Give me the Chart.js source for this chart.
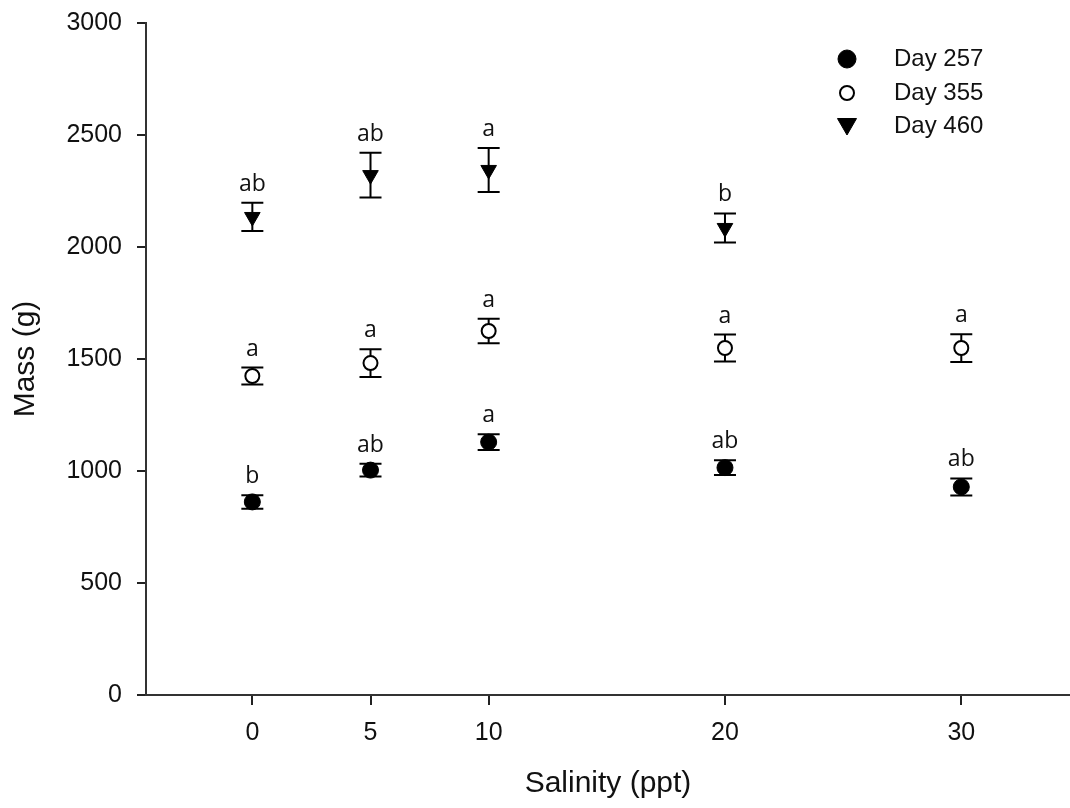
<!DOCTYPE html>
<html>
<head>
<meta charset="utf-8">
<script src="https://cdn.jsdelivr.net/npm/chart.js@4"></script>
<style>
  html, body { margin: 0; padding: 0; background: #fff; }
  #wrap { width: 1070px; height: 808px; }
</style>
</head>
<body>
<div id="wrap"><canvas id="massChart" width="1070" height="808"></canvas></div>
<script>
// salinity levels (ppt) on the x axis
const salinity = [0, 5, 10, 20, 30];
const yTicks = [0, 500, 1000, 1500, 2000, 2500, 3000];

// mean mass (g) and error (+/-) per sampling day
const day257Mean = [862, 1004, 1129, 1015, 929];
const day257Err = [30, 28, 35, 33, 38];
const day257Letters = ['b', 'ab', 'a', 'ab', 'ab'];

const day355Mean = [1424, 1482, 1625, 1549, 1549];
const day355Err = [38, 62, 55, 60, 62];
const day355Letters = ['a', 'a', 'a', 'a', 'a'];

const day460Mean = [2134, 2321, 2344, 2085, null];
const day460Err = [63, 100, 98, 65, null];
const day460Letters = ['ab', 'ab', 'a', 'b', null];

const seriesNames = ['Day 257', 'Day 355', 'Day 460'];

const FONT = '"Liberation Sans", Arial, sans-serif';

function toPoints(means) {
    return salinity.map((s, i) => ({ x: s, y: means[i] })).filter(p => p.y !== null);
}

const errs = [day257Err, day355Err, day460Err];
const means = [day257Mean, day355Mean, day460Mean];
const letters = [day257Letters, day355Letters, day460Letters];

// error bars go under the markers, letters and legend on top
const errorBarPlugin = {
    id: 'errorBars',
    beforeDatasetsDraw(chart) {
        const ctx = chart.ctx;
        const xs = chart.scales.x, ys = chart.scales.y;
        ctx.save();
        ctx.strokeStyle = '#000';
        ctx.lineWidth = 2;
        means.forEach((m, d) => {
            m.forEach((v, i) => {
                if (v === null) return;
                const x = xs.getPixelForValue(salinity[i]);
                const top = ys.getPixelForValue(v + errs[d][i]);
                const bot = ys.getPixelForValue(v - errs[d][i]);
                ctx.beginPath();
                ctx.moveTo(x, top); ctx.lineTo(x, bot);
                ctx.moveTo(x - 11, top); ctx.lineTo(x + 11, top);
                ctx.moveTo(x - 11, bot); ctx.lineTo(x + 11, bot);
                ctx.stroke();
            });
        });
        ctx.restore();
    },
    afterDatasetsDraw(chart) {
        const ctx = chart.ctx;
        const xs = chart.scales.x, ys = chart.scales.y;
        ctx.save();
        ctx.fillStyle = '#111';
        ctx.font = '23px "Open Sans", sans-serif';
        ctx.textAlign = 'center';
        ctx.textBaseline = 'alphabetic';
        means.forEach((m, d) => {
            m.forEach((v, i) => {
                if (v === null || !letters[d][i]) return;
                const x = xs.getPixelForValue(salinity[i]);
                const top = ys.getPixelForValue(v + errs[d][i]);
                ctx.fillText(letters[d][i], x, top - 12);
            });
        });

        // legend, top right inside the plot
        const styles = [
            { pointStyle: 'circle', radius: 9, rotation: 0, borderWidth: 1, fill: '#000' },
            { pointStyle: 'circle', radius: 7, rotation: 0, borderWidth: 2, fill: '#fff' },
            { pointStyle: 'triangle', radius: 11, rotation: 180, borderWidth: 1, fill: '#000' }
        ];
        const rowsY = [59, 93, 126];
        ctx.font = '24px ' + FONT;
        ctx.textAlign = 'left';
        ctx.textBaseline = 'middle';
        seriesNames.forEach((name, k) => {
            ctx.fillStyle = styles[k].fill;
            ctx.strokeStyle = '#000';
            ctx.lineWidth = styles[k].borderWidth;
            Chart.helpers.drawPoint(ctx, styles[k], 847, rowsY[k] + (k === 2 ? -2 : 0));
            ctx.fillStyle = '#111';
            ctx.fillText(name, 894, rowsY[k]);
        });
        ctx.restore();
    }
};

const ctx = document.getElementById('massChart').getContext('2d');
new Chart(ctx, {
    type: 'scatter',
    data: {
        datasets: [
            {
                label: seriesNames[0],
                data: toPoints(day257Mean),
                pointStyle: 'circle',
                pointRadius: 8,
                backgroundColor: '#000',
                borderColor: '#000',
                borderWidth: 1
            },
            {
                label: seriesNames[1],
                data: toPoints(day355Mean),
                pointStyle: 'circle',
                pointRadius: 7,
                backgroundColor: '#fff',
                borderColor: '#000',
                borderWidth: 2
            },
            {
                label: seriesNames[2],
                data: toPoints(day460Mean),
                pointStyle: 'triangle',
                pointRotation: 180,
                pointRadius: 9,
                backgroundColor: '#000',
                borderColor: '#000',
                borderWidth: 1
            }
        ]
    },
    options: {
        responsive: false,
        animation: false,
        layout: { autoPadding: false, padding: { top: 23, right: 0, bottom: 0, left: 0 } },
        plugins: {
            legend: { display: false },
            tooltip: { enabled: false }
        },
        scales: {
            x: {
                type: 'linear',
                min: -4.5,
                max: 34.6,
                afterBuildTicks: scale => { scale.ticks = salinity.map(v => ({ value: v })); },
                afterFit: scale => {
                    scale.height = 113;
                    scale.paddingLeft = 0; scale.paddingRight = 0;
                    scale.paddingTop = 0; scale.paddingBottom = 0;
                },
                grid: { drawOnChartArea: false, drawTicks: true, tickLength: 10, color: '#222', lineWidth: 2 },
                border: { display: true, color: '#333', width: 2 },
                ticks: {
                    padding: 13,
                    color: '#111',
                    font: { family: FONT, size: 25 }
                },
                title: {
                    display: true,
                    text: 'Salinity (ppt)',
                    color: '#111',
                    font: { family: FONT, size: 30 },
                    padding: { top: 0, bottom: 6 }
                }
            },
            y: {
                min: 0,
                max: 3000,
                afterBuildTicks: scale => { scale.ticks = yTicks.map(v => ({ value: v })); },
                afterFit: scale => {
                    scale.width = 146;
                    scale.paddingLeft = 0; scale.paddingRight = 0;
                    scale.paddingTop = 0; scale.paddingBottom = 0;
                },
                grid: { drawOnChartArea: false, drawTicks: true, tickLength: 9, color: '#222', lineWidth: 2 },
                border: { display: true, color: '#333', width: 2 },
                ticks: {
                    padding: 15,
                    color: '#111',
                    callback: v => String(v),
                    font: { family: FONT, size: 25 }
                },
                title: {
                    display: true,
                    text: 'Mass (g)',
                    color: '#111',
                    font: { family: FONT, size: 30 },
                    padding: { top: 8, bottom: 0 }
                }
            }
        }
    },
    plugins: [errorBarPlugin]
});
</script>
</body>
</html>
